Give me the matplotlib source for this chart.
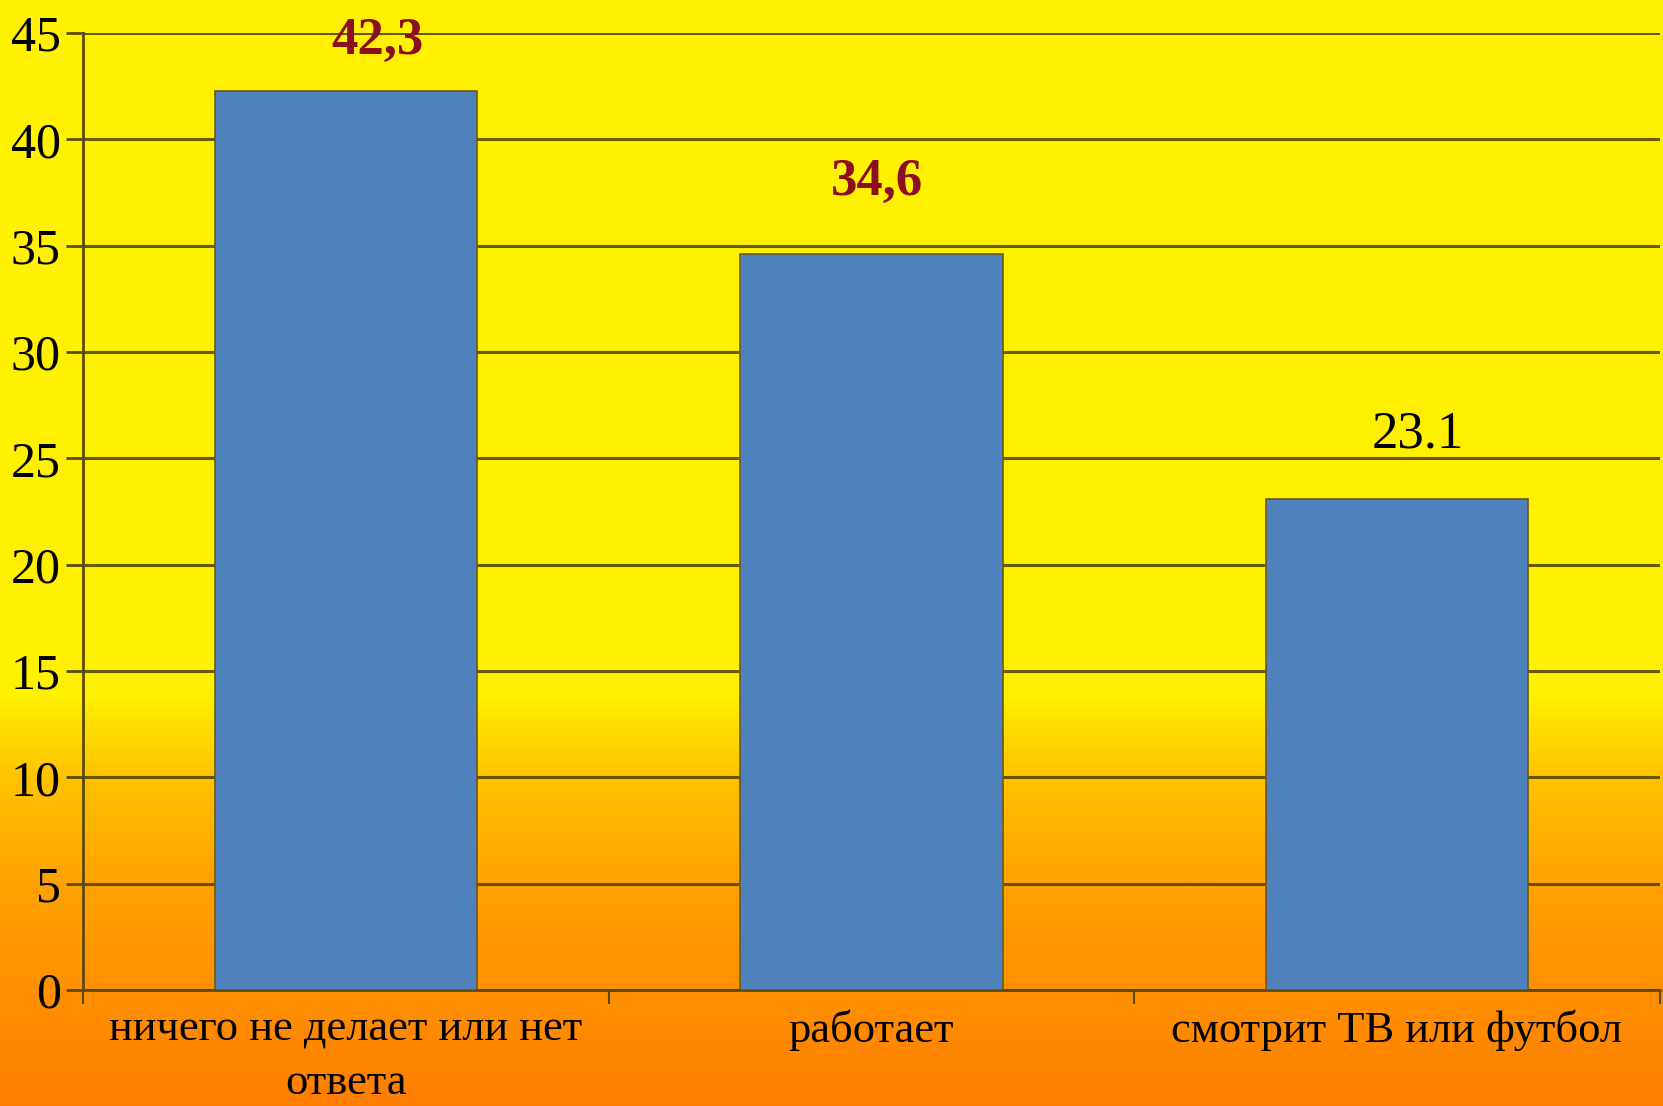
import numpy as np
import matplotlib.pyplot as plt
from matplotlib.colors import LinearSegmentedColormap

categories = ['ничего не делает или нет\nответа', 'работает', 'смотрит ТВ или футбол']
values = [42.3, 34.6, 23.1]
value_labels = ['42,3', '34,6', '23.1']
yticks = [0, 5, 10, 15, 20, 25, 30, 35, 40, 45]

plt.rcParams['font.family'] = ['Liberation Serif', 'DejaVu Serif']

fig = plt.figure(figsize=(16.63, 11.06), dpi=100)

# background gradient: yellow on top, orange at the bottom
bg = fig.add_axes([0, 0, 1, 1], zorder=-10)
cmap = LinearSegmentedColormap.from_list('bg', [
    (0.0, '#ff7e00'),
    (0.20, '#ffa200'),
    (0.30, '#ffc400'),
    (0.37, '#fff000'),
    (1.0, '#fff200'),
])
grad = np.linspace(0, 1, 512).reshape(-1, 1)
bg.imshow(grad, aspect='auto', cmap=cmap, origin='lower', extent=[0, 1, 0, 1])
bg.axis('off')

ax = fig.add_axes([0.050, 0.105, 0.948, 0.865])
ax.patch.set_alpha(0)

x = np.arange(len(categories))
ax.bar(x, values, width=0.5, color='#4f81bd', edgecolor='#6b5a10', linewidth=1.2, zorder=3)

ax.set_xlim(-0.5, 2.5)
ax.set_ylim(0, 45)
ax.set_yticks(yticks)
ax.yaxis.grid(True, color='#4a4200', linewidth=2.2, alpha=0.85, zorder=1)
ax.set_axisbelow(True)

ax.set_xticks([-0.5, 0.5, 1.5, 2.5])
ax.set_xticklabels([])
ax.set_xticks(x, minor=True)
ax.set_xticklabels(categories, minor=True, fontsize=32)
ax.tick_params(axis='x', which='minor', length=0, pad=14)
ax.tick_params(axis='x', which='major', length=10, width=1.5, color='#5a4a10')
ax.tick_params(axis='y', labelsize=36, length=12, width=2, color='#5a4a10', pad=4)

for lbl in ax.get_xticklabels(minor=True):
    lbl.set_linespacing(1.45)

ax.spines['top'].set_visible(False)
ax.spines['right'].set_visible(False)
ax.spines['left'].set_color('#5a4a10')
ax.spines['left'].set_linewidth(2)
ax.spines['bottom'].set_color('#5a4a10')
ax.spines['bottom'].set_linewidth(2)

offsets = [(0.06, 2.35), (0.01, 3.4), (0.04, 3.0)]
for i, (v, t) in enumerate(zip(values, value_labels)):
    dx, dy = offsets[i]
    if ',' in t:
        ax.text(i + dx, v + dy, t, ha='center', va='center', fontsize=38,
                fontweight='bold', color='#8b0f1f', zorder=5)
    else:
        ax.text(i + dx, v + dy, t, ha='center', va='center', fontsize=38,
                color='black', zorder=5)

fig.savefig('out.png', dpi=100)
